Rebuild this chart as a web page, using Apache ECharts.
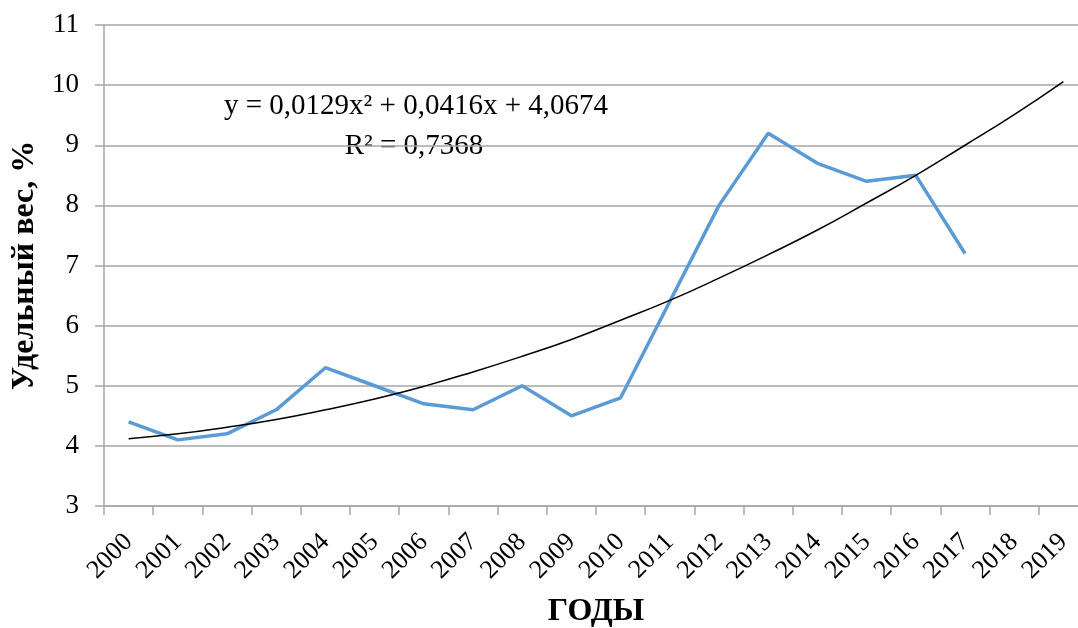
<!DOCTYPE html>
<html>
<head>
<meta charset="utf-8">
<script src="https://cdn.jsdelivr.net/npm/echarts@6/dist/echarts.min.js"></script>
<style>
  html, body { margin: 0; padding: 0; background: #fff; }
  #chart { width: 1078px; height: 628px; }
</style>
</head>
<body>
<div id="chart"></div>
<script>
var years = ['2000', '2001', '2002', '2003', '2004', '2005', '2006', '2007', '2008', '2009',
    '2010', '2011', '2012', '2013', '2014', '2015', '2016', '2017', '2018', '2019'];

// удельный вес, %
var share = [4.4, 4.1, 4.2, 4.6, 5.3, 5.0, 4.7, 4.6, 5.0, 4.5,
    4.8, 6.4, 8.0, 9.2, 8.7, 8.4, 8.5, 7.2, null, null];

// полиномиальный тренд (как на рисунке)
var trend = [4.12, 4.20, 4.31, 4.44, 4.60, 4.78, 4.99, 5.23, 5.49, 5.77,
    6.09, 6.42, 6.79, 7.18, 7.59, 8.04, 8.50, 9.00, 9.51, 10.06];

var yTicks = [3, 4, 5, 6, 7, 8, 9, 10, 11];

var font = '"Liberation Serif", "Times New Roman", serif';
var chart = echarts.init(document.getElementById('chart'));

// the category axis runs a little past the right edge of the picture
var option = {
    animation: false,
    textStyle: {
        fontFamily: font,
        color: '#000'
    },
    grid: {
        left: 104,
        top: 25,
        width: 984,
        height: 481,
        containLabel: false,
        outerBoundsMode: 'none'
    },
    xAxis: [{
        type: 'category',
        data: years,
        boundaryGap: true,
        name: 'ГОДЫ',
        nameLocation: 'middle',
        nameGap: 90,
        nameTextStyle: {
            fontFamily: font,
            fontWeight: 'bold',
            fontSize: 32,
            color: '#000'
        },
        axisLine: {
            lineStyle: { color: '#a6a6a6', width: 1.5 }
        },
        axisTick: {
            show: true,
            alignWithLabel: false,
            length: 9,
            lineStyle: { color: '#a6a6a6', width: 1.5 }
        },
        axisLabel: {
            rotate: 45,
            interval: 0,
            margin: 32,
            fontSize: 26,
            fontFamily: font,
            color: '#000'
        },
        splitLine: { show: false }
    }],
    yAxis: [{
        type: 'value',
        min: yTicks[0],
        max: yTicks[yTicks.length - 1],
        interval: 1,
        name: 'Удельный вес, %',
        nameLocation: 'middle',
        nameGap: 55,
        nameRotate: 90,
        nameTextStyle: {
            fontFamily: font,
            fontWeight: 'bold',
            fontSize: 32,
            color: '#000'
        },
        axisLine: {
            show: true,
            lineStyle: { color: '#a6a6a6', width: 1.5 }
        },
        axisTick: {
            show: true,
            length: 9,
            lineStyle: { color: '#a6a6a6', width: 1.5 }
        },
        axisLabel: {
            margin: 25,
            fontSize: 27,
            fontFamily: font,
            color: '#000'
        },
        splitLine: {
            lineStyle: { color: '#a6a6a6', width: 1.5 }
        }
    }],
    series: [{
        name: 'Удельный вес',
        type: 'line',
        data: share,
        symbol: 'none',
        lineStyle: { color: '#5b9bd5', width: 3.5 },
        itemStyle: { color: '#5b9bd5' },
        z: 3
    }, {
        name: 'Тренд',
        type: 'line',
        data: trend,
        smooth: true,
        symbol: 'none',
        lineStyle: { color: '#000', width: 1.5 },
        z: 4
    }],
    graphic: [{
        type: 'text',
        x: 416,
        y: 106,
        style: {
            text: 'y = 0,0129x² + 0,0416x + 4,0674',
            fontFamily: font,
            fontSize: 29,
            fill: '#000',
            align: 'center',
            verticalAlign: 'middle'
        }
    }, {
        type: 'text',
        x: 414,
        y: 146,
        style: {
            text: 'R² = 0,7368',
            fontFamily: font,
            fontSize: 29,
            fill: '#000',
            align: 'center',
            verticalAlign: 'middle'
        }
    }]
};

chart.setOption(option);
</script>
</body>
</html>
